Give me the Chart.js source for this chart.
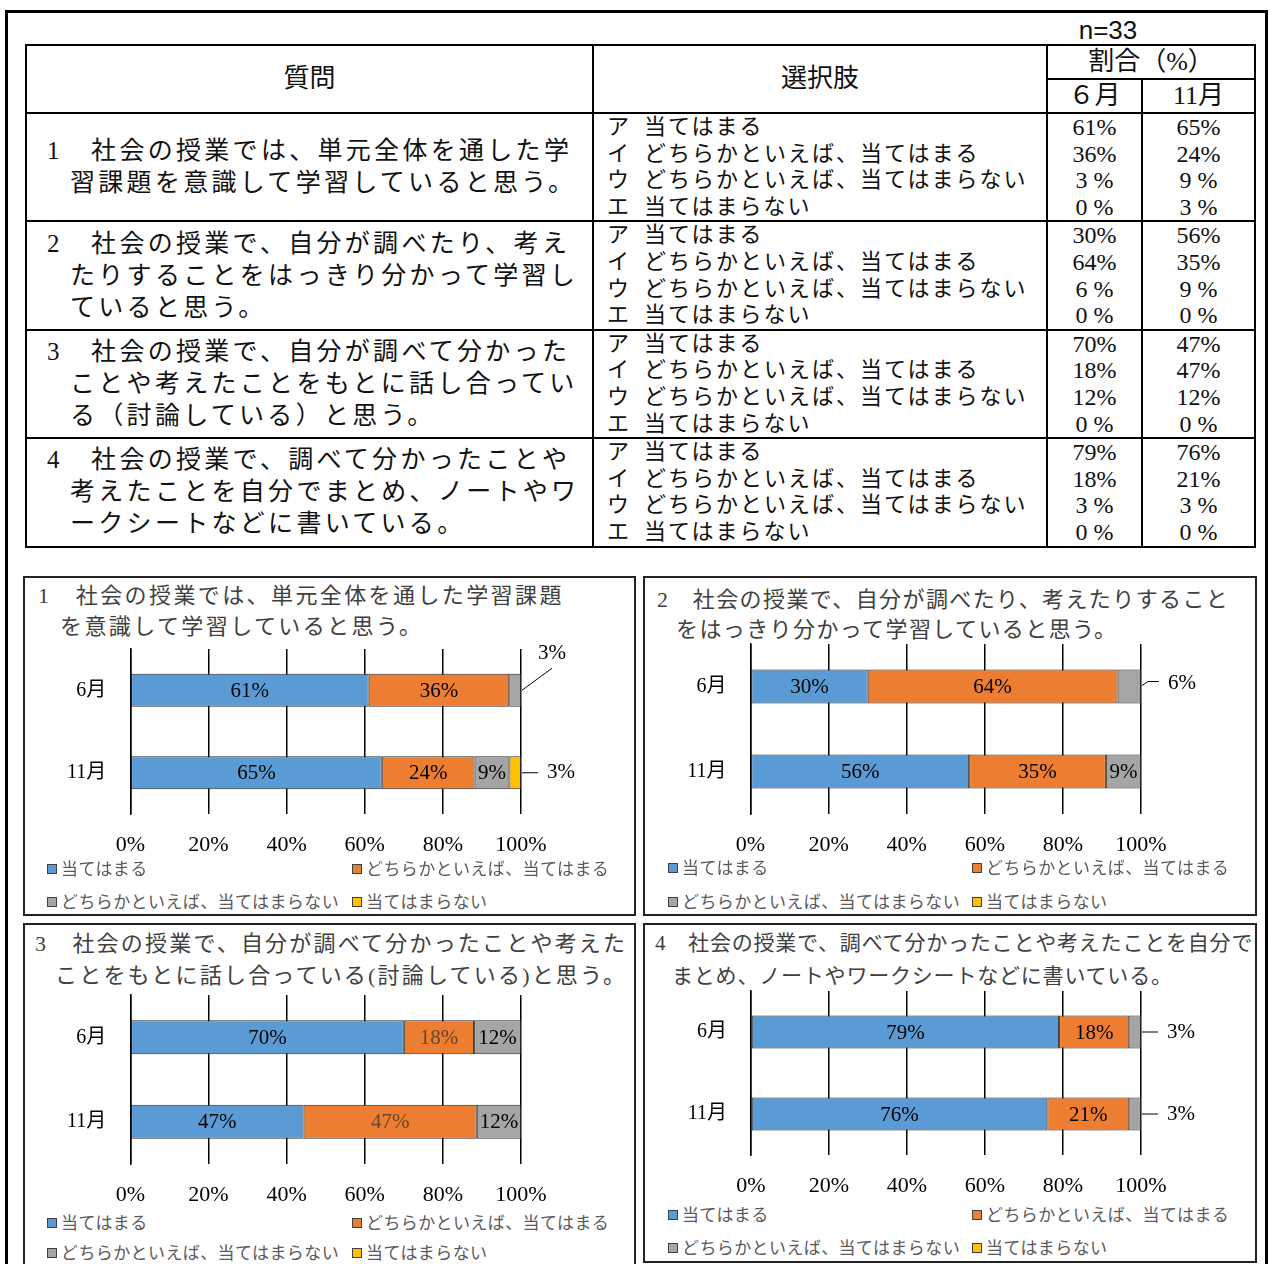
<!DOCTYPE html>
<html lang="ja">
<head>
<meta charset="utf-8">
<script src="https://cdn.jsdelivr.net/npm/chart.js@4.4.0/dist/chart.umd.min.js"></script>
<style>
  body { margin:0; width:1269px; height:1264px; overflow:hidden; background:#fff; position:relative;
         font-family:"Liberation Serif","Noto Sans CJK JP",serif; color:#111; }
  .abs { position:absolute; }
  #frame { left:5px; top:10px; width:1257px; height:1300px; border:3px solid #000; }
  #n { left:1060px; top:14px; width:96px; text-align:center; line-height:32px;
       font-size:26px; font-family:"Liberation Sans Narrow","Liberation Sans",sans-serif; }
  table { position:absolute; left:25px; top:44px; width:1229px; border-collapse:collapse; table-layout:fixed; }
  th, td { border:2px solid #000; padding:0; font-weight:normal; }
  th { font-size:26px; line-height:28px; text-align:center; }
  td.q { font-size:25px; letter-spacing:3.3px; line-height:32px; padding-left:20px; vertical-align:middle; }
  td.q div + div { padding-left:23px; }
  td.o { font-size:22px; letter-spacing:2px; line-height:26.6px; padding-left:13px; vertical-align:middle; }
  td.p { font-size:24px; line-height:26.6px; text-align:center; white-space:pre; vertical-align:middle; }
  .panel { border:2px solid #222; background:#fff; }
  .title { color:#404040; font-size:22px; white-space:nowrap; }
  .title div + div { padding-left:var(--ind); }
  canvas { position:absolute; }
  .leg { position:absolute; font-family:"Noto Sans CJK JP",sans-serif; font-size:17px; color:#595959;
         white-space:nowrap; line-height:20px; z-index:5; letter-spacing:0.4px; }
  .leg i { display:inline-block; width:8px; height:8px; border:1px solid #404040; margin-right:4px; vertical-align:1px; }
</style>
</head>
<body>
<div id="frame" class="abs"></div>
<div id="n" class="abs">n=33</div>
<table id="tbl">
  <colgroup><col style="width:567px"><col style="width:454px"><col style="width:95px"><col style="width:113px"></colgroup>
  <tr style="height:34px"><th rowspan="2">質問</th><th rowspan="2">選択肢</th><th colspan="2">割合（%）</th></tr>
  <tr style="height:34px"><th>６月</th><th>11月</th></tr>
</table>

<div class="abs panel" style="left:23px;top:576px;width:609px;height:336px"></div>
<div class="abs panel" style="left:643px;top:576px;width:610px;height:336px"></div>
<div class="abs panel" style="left:23px;top:923px;width:609px;height:380px"></div>
<div class="abs panel" style="left:643px;top:923px;width:610px;height:336px"></div>

<div id="t1" class="abs title" style="left:38px;top:580px;line-height:31px;letter-spacing:2.4px;--ind:22px"></div>
<div id="t2" class="abs title" style="left:657px;top:585px;line-height:30px;letter-spacing:1.4px;--ind:19px"></div>
<div id="t3" class="abs title" style="left:35px;top:928px;line-height:32px;letter-spacing:2.2px;--ind:20px"></div>
<div id="t4" class="abs title" style="left:655px;top:927px;line-height:33px;font-size:21px;letter-spacing:0.8px;--ind:17px"></div>

<canvas id="c1"></canvas>
<canvas id="c2"></canvas>
<canvas id="c3"></canvas>
<canvas id="c4"></canvas>

<script>
// survey results (%), order: ア イ ウ エ
const months = ['6月', '11月'];
const choices = ['当てはまる', 'どちらかといえば、当てはまる', 'どちらかといえば、当てはまらない', '当てはまらない'];
const marks = ['ア', 'イ', 'ウ', 'エ'];
const q1June = [61, 36, 3, 0];
const q1Nov = [65, 24, 9, 3];
const q2June = [30, 64, 6, 0];
const q2Nov = [56, 35, 9, 0];
const q3June = [70, 18, 12, 0];
const q3Nov = [47, 47, 12, 0];
const q4June = [79, 18, 3, 0];
const q4Nov = [76, 21, 3, 0];
const xTicks = [0, 20, 40, 60, 80, 100];

const tableLines = [
  ['1　社会の授業では、単元全体を通した学', '習課題を意識して学習していると思う。'],
  ['2　社会の授業で、自分が調べたり、考え', 'たりすることをはっきり分かって学習し', 'ていると思う。'],
  ['3　社会の授業で、自分が調べて分かった', 'ことや考えたことをもとに話し合ってい', 'る（討論している）と思う。'],
  ['4　社会の授業で、調べて分かったことや', '考えたことを自分でまとめ、ノートやワ', 'ークシートなどに書いている。']
];
const titleLines = [
  ['1　社会の授業では、単元全体を通した学習課題', 'を意識して学習していると思う。'],
  ['2　社会の授業で、自分が調べたり、考えたりすること', 'をはっきり分かって学習していると思う。'],
  ['3　社会の授業で、自分が調べて分かったことや考えた', 'ことをもとに話し合っている(討論している)と思う。'],
  ['4　社会の授業で、調べて分かったことや考えたことを自分で', 'まとめ、ノートやワークシートなどに書いている。']
];
const juneAll = [q1June, q2June, q3June, q4June];
const novAll = [q1Nov, q2Nov, q3Nov, q4Nov];

const colors = ['#5B9BD5', '#ED7D31', '#A5A5A5', '#FFC000'];

// table body
const fmt = v => v < 10 ? v + ' %' : v + '%';
const tbl = document.getElementById('tbl');
tableLines.forEach((lines, q) => {
  const tr = document.createElement('tr');
  tr.style.height = '108px';
  tr.innerHTML =
    '<td class="q">' + lines.map(l => '<div>' + l + '</div>').join('') + '</td>' +
    '<td class="o">' + choices.map((c, k) => '<div>' + marks[k] + '\u2002' + c + '</div>').join('') + '</td>' +
    '<td class="p">' + juneAll[q].map(fmt).join('\n') + '</td>' +
    '<td class="p">' + novAll[q].map(fmt).join('\n') + '</td>';
  tbl.appendChild(tr);
});

titleLines.forEach((lines, q) => {
  document.getElementById('t' + (q + 1)).innerHTML = lines.map(l => '<div>' + l + '</div>').join('');
});

Chart.defaults.font.family = '"Liberation Serif", "Noto Sans CJK JP", serif';
Chart.defaults.color = '#000';

const barLabels = {
  id: 'barLabels',
  afterDatasetsDraw(chart, args, opts) {
    const ctx = chart.ctx;
    ctx.save();
    ctx.font = '21px "Liberation Serif", serif';
    ctx.textBaseline = 'middle';
    chart.data.datasets.forEach((ds, d) => {
      chart.getDatasetMeta(d).data.forEach((bar, i) => {
        const v = ds.rawValues[i];
        if (!v) return;
        const co = opts.callouts[d + '-' + i] || (v <= 6 ? opts.defaultCallout : null);
        if (co) {
          ctx.strokeStyle = '#000';
          ctx.lineWidth = 1;
          ctx.beginPath();
          co.line.forEach((p, j) => {
            if (j) ctx.lineTo(bar.x + p[0], bar.y + p[1]);
            else ctx.moveTo(bar.x + p[0], bar.y + p[1]);
          });
          ctx.stroke();
          ctx.fillStyle = '#000';
          ctx.textAlign = 'left';
          ctx.fillText(v + '%', bar.x + co.text[0], bar.y + co.text[1]);
        } else {
          ctx.fillStyle = (opts.textColors && opts.textColors[d]) || '#000';
          ctx.textAlign = 'center';
          ctx.fillText(v + '%', (bar.x + bar.base) / 2, bar.y + 1);
        }
      });
    });
    ctx.restore();
  }
};

function makeChart(id, june, nov, g, labelOpts) {
  const canvas = document.getElementById(id);
  const W = g.right - g.left;
  const H = (g.bottom - g.top) + 75;
  canvas.width = W;
  canvas.height = H;
  canvas.style.left = g.left + 'px';
  canvas.style.top = (g.top - 30) + 'px';

  const sumJ = june.reduce((a, b) => a + b, 0);
  const sumN = nov.reduce((a, b) => a + b, 0);
  const datasets = choices.map((c, k) => ({
    label: c,
    data: [june[k] / sumJ * 100, nov[k] / sumN * 100],
    rawValues: [june[k], nov[k]],
    backgroundColor: colors[k],
    borderColor: '#262626',
    borderWidth: ctx => ctx.raw ? 1 : 0,
    borderSkipped: false,
    categoryPercentage: 1,
    barPercentage: 0.4
  }));

  return new Chart(canvas, {
    type: 'bar',
    data: { labels: months, datasets: datasets },
    options: {
      indexAxis: 'y',
      responsive: false,
      animation: false,
      layout: { padding: { top: 30, bottom: 5, left: 0, right: g.right - g.x100 } },
      scales: {
        x: {
          stacked: true, min: 0, max: 100,
          ticks: { stepSize: 20, padding: 18, font: { size: 22 }, color: '#000',
                   callback: v => xTicks.includes(v) ? v + '%' : '' },
          grid: { color: '#000', lineWidth: 1.5, drawTicks: false },
          border: { display: false },
          afterFit: s => { s.height = 40; }
        },
        y: {
          stacked: true,
          ticks: { padding: 16, font: { size: 20 }, color: '#000' },
          grid: { display: false },
          border: { display: true, color: '#000', width: 1.5 },
          afterFit: s => { s.width = g.x0 - g.left; s.paddingTop = 0; s.paddingBottom = 0; }
        }
      },
      plugins: {
        legend: { display: false },
        tooltip: { enabled: false },
        barLabels: Object.assign({ callouts: {}, defaultCallout: { line: [[1, 0], [17, 0]], text: [26, 0] } }, labelOpts)
      }
    },
    plugins: [barLabels]
  });
}

makeChart('c1', q1June, q1Nov, { left: 23, right: 636, top: 649, bottom: 814, x0: 130.3, x100: 521 },
  { callouts: { '2-0': { line: [[1, 0], [31, -22]], text: [17, -37] } } });
makeChart('c2', q2June, q2Nov, { left: 643, right: 1257, top: 644, bottom: 814, x0: 750.5, x100: 1141 },
  { callouts: { '2-0': { line: [[1, -1], [7, -5], [18, -5]], text: [27, -3] } } });
makeChart('c3', q3June, q3Nov, { left: 23, right: 636, top: 995, bottom: 1164, x0: 130.3, x100: 521 },
  { textColors: { 1: '#6b4428' } });
makeChart('c4', q4June, q4Nov, { left: 643, right: 1257, top: 991, bottom: 1155, x0: 751, x100: 1141 }, {});

// legends (HTML, two columns)
const legendPos = [
  { cols: [47, 352], rows: [868, 901] },
  { cols: [668, 972], rows: [867, 901] },
  { cols: [47, 352], rows: [1222, 1252] },
  { cols: [668, 972], rows: [1214, 1247] }
];
legendPos.forEach(p => {
  choices.forEach((c, k) => {
    const el = document.createElement('div');
    el.className = 'leg';
    el.style.left = p.cols[k % 2] + 'px';
    el.style.top = (p.rows[Math.floor(k / 2)] - 10) + 'px';
    el.innerHTML = '<i style="background:' + colors[k] + '"></i>' + c;
    document.body.appendChild(el);
  });
});
</script>
</body>
</html>
